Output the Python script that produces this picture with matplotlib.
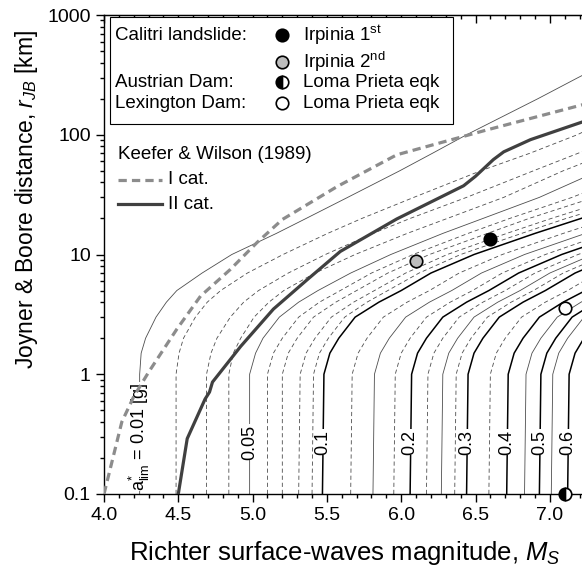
import matplotlib.pyplot as plt
from matplotlib.patches import Rectangle

plt.rcParams['font.family'] = ['Liberation Sans', 'DejaVu Sans']
plt.rcParams['mathtext.fontset'] = 'custom'
plt.rcParams['mathtext.rm'] = 'Liberation Sans'
plt.rcParams['mathtext.it'] = 'Liberation Sans:italic'

# distances [km] at which the magnitude of every iso-a*lim curve was read
r_grid = [0.1, 1, 1.5, 2, 3, 4, 5, 7, 10, 15, 20, 30, 50, 70, 100, 200, 300, 500]

# a*_lim levels [g], line style, and magnitude Ms read along r_grid
levels = ['0.01', '0.02', '0.03', '0.04', '0.05', '0.06', '0.07', '0.08', '0.09',
          '0.1', '0.125', '0.15', '0.175', '0.2', '0.225', '0.25', '0.275', '0.3',
          '0.35', '0.4', '0.45', '0.5', '0.55', '0.6']
styles = ['thin', 'dash', 'dash', 'dash', 'thin', 'dash', 'dash', 'dash', 'dash',
          'bold', 'dash', 'thin', 'dash', 'bold', 'dash', 'thin', 'dash', 'bold',
          'dash', 'bold', 'thin', 'bold', 'thin', 'bold']
curves_M = [
    [4.24, 4.24, 4.25, 4.28, 4.35, 4.42, 4.49, 4.66, 4.86, 5.16, 5.36, 5.64, 5.99, 6.21, 6.44, 6.92, 7.19, 7.54],
    [4.485, 4.485, 4.505, 4.535, 4.615, 4.695, 4.785, 4.965, 5.205, 5.505, 5.735, 6.085, 6.535, 6.865, 7.185, 7.685],
    [4.69, 4.69, 4.72, 4.76, 4.85, 4.94, 5.04, 5.24, 5.49, 5.81, 6.06, 6.44, 6.89, 7.19, 7.49],
    [4.84, 4.84, 4.87, 4.92, 5.01, 5.11, 5.21, 5.42, 5.69, 6.04, 6.31, 6.69, 7.09, 7.39],
    [4.98, 4.98, 5.02, 5.07, 5.18, 5.31, 5.44, 5.66, 5.93, 6.28, 6.55, 6.93, 7.33],
    [5.10, 5.10, 5.14, 5.20, 5.31, 5.45, 5.59, 5.80, 6.08, 6.45, 6.73, 7.15, 7.60],
    [5.20, 5.20, 5.24, 5.30, 5.41, 5.56, 5.70, 5.91, 6.19, 6.58, 6.86, 7.30],
    [5.31, 5.32, 5.36, 5.42, 5.53, 5.68, 5.82, 6.03, 6.31, 6.71, 7.01, 7.46],
    [5.40, 5.41, 5.45, 5.51, 5.62, 5.77, 5.91, 6.12, 6.40, 6.81, 7.11, 7.58],
    [5.47, 5.48, 5.52, 5.58, 5.69, 5.85, 6.00, 6.20, 6.49, 6.90, 7.21, 7.67],
    [5.66, 5.67, 5.71, 5.77, 5.88, 6.04, 6.19, 6.39, 6.68, 7.09, 7.40],
    [5.81, 5.82, 5.86, 5.92, 6.03, 6.19, 6.34, 6.54, 6.83, 7.24],
    [5.95, 5.96, 6.00, 6.06, 6.17, 6.33, 6.48, 6.68, 6.97, 7.38],
    [6.06, 6.07, 6.11, 6.17, 6.28, 6.44, 6.59, 6.79, 7.08, 7.49],
    [6.17, 6.18, 6.22, 6.28, 6.39, 6.55, 6.70, 6.90, 7.19, 7.60],
    [6.27, 6.28, 6.32, 6.38, 6.49, 6.65, 6.80, 7.00, 7.29],
    [6.36, 6.37, 6.41, 6.47, 6.58, 6.74, 6.89, 7.09, 7.38],
    [6.44, 6.45, 6.49, 6.55, 6.66, 6.82, 6.97, 7.17, 7.46],
    [6.59, 6.60, 6.64, 6.70, 6.81, 6.97, 7.12, 7.32],
    [6.71, 6.72, 6.76, 6.82, 6.93, 7.09, 7.24],
    [6.83, 6.84, 6.88, 6.94, 7.05, 7.21, 7.36],
    [6.93, 6.94, 6.98, 7.04, 7.15, 7.31],
    [7.01, 7.02, 7.06, 7.12, 7.23],
    [7.12, 7.13, 7.17, 7.23],
]
labelled = ['0.05', '0.1', '0.2', '0.3', '0.4', '0.5', '0.6']

# Keefer & Wilson (1989) bounds
kw1_M = [4.0, 4.06, 4.12, 4.2, 4.30, 4.49, 4.65, 4.85, 5.03, 5.20, 5.57, 5.97, 6.58, 7.22]
kw1_r = [0.1, 0.2, 0.4, 0.65, 1.04, 2.38, 4.5, 7.5, 12.6, 19.6, 37, 68, 110, 178]
kw2_M = [4.5, 4.56, 4.68, 4.71, 4.73, 4.92, 5.14, 5.37, 5.59, 5.97, 6.42, 6.50, 6.62, 6.69, 6.87, 7.22]
kw2_r = [0.1, 0.29, 0.62, 0.71, 0.86, 1.71, 3.5, 6.2, 10.6, 19.8, 37.5, 45, 62, 72, 91, 128]

# case histories
case_sites = ['Calitri landslide:', '', 'Austrian Dam:', 'Lexington Dam:']
case_names = ['Irpinia 1$^{\\mathrm{st}}$', 'Irpinia 2$^{\\mathrm{nd}}$', 'Loma Prieta eqk', 'Loma Prieta eqk']
case_M = [6.6, 6.1, 7.1, 7.1]
case_r = [13.4, 8.8, 0.1, 3.6]
case_face = ['black', '#bdbdbd', 'black', 'white']
case_fill = ['full', 'full', 'left', 'full']

fig = plt.figure(figsize=(5.82, 5.74), dpi=100)
ax = fig.add_axes([104 / 582, 80 / 574, 482 / 582, 479 / 574])

line_kw = {
    'thin': dict(color='#4d4d4d', lw=0.6),
    'dash': dict(color='#4d4d4d', lw=0.6, dashes=(5, 3.5)),
    'bold': dict(color='black', lw=1.1),
}
for lev, st, Ms in zip(levels, styles, curves_M):
    ax.plot(Ms, r_grid[:len(Ms)], **line_kw[st], zorder=2)
    if lev in labelled:
        ax.text(Ms[0], 0.27, lev, rotation=90, ha='center', va='center', fontsize=13,
                bbox=dict(facecolor='white', edgecolor='none', pad=0.3), zorder=3)
ax.text(curves_M[0][0], 0.30, 'a$^{*}_{\\mathrm{lim}}$ = 0.01 [g]', rotation=90,
        ha='center', va='center', fontsize=13,
        bbox=dict(facecolor='white', edgecolor='none', pad=0.3), zorder=3)

ax.plot(kw1_M, kw1_r, color='#8c8c8c', lw=2.3, dashes=(2.6, 1.6), zorder=4)
ax.plot(kw2_M, kw2_r, color='#404040', lw=2.3, zorder=4)

for M, r, fc, fs in zip(case_M, case_r, case_face, case_fill):
    ax.plot(M, r, 'o', ms=9, mfc=fc, mfcalt='white', fillstyle=fs, mec='black',
            mew=1.2, clip_on=False, zorder=6)

xt = [4.0, 4.5, 5.0, 5.5, 6.0, 6.5, 7.0]
xt_minor = [4.0 + 0.1 * i for i in range(33)]
ax.set_yscale('log')
ax.set_xlim(4.0, 4.0 + 482 / 148.6)
ax.set_ylim(0.1, 1000)
ax.set_xticks(xt)
ax.set_xticklabels(['4.0', '4.5', '5.0', '5.5', '6.0', '6.5', '7.0'])
ax.set_xticks(xt_minor, minor=True)
ax.set_yticks([0.1, 1, 10, 100, 1000])
ax.set_yticklabels(['0.1', '1', '10', '100', '1000'])
ax.tick_params(which='both', direction='out', labelsize=14, width=1)
ax.tick_params(which='major', length=6)
ax.tick_params(which='minor', length=3)
ax.spines['right'].set_visible(False)
for s in ['left', 'bottom', 'top']:
    ax.spines[s].set_linewidth(1)

top = ax.secondary_xaxis('top')
top.set_xticks(xt)
top.set_xticks(xt_minor, minor=True)
top.tick_params(which='both', direction='in', labeltop=False, width=1)
top.tick_params(which='major', length=6)
top.tick_params(which='minor', length=3)

ax.set_xlabel('Richter surface-waves magnitude, $M_S$', fontsize=18.5)
ax.set_ylabel('Joyner & Boore distance, $r_{JB}$ [km]', fontsize=16.5)
ax.xaxis.set_label_coords(0.5, -0.094)
ax.yaxis.set_label_coords(-0.133, 0.614)

# case-history legend box
ax.add_patch(Rectangle((0.0124, 0.772), 0.712, 0.224, transform=ax.transAxes,
                       facecolor='white', edgecolor='black', lw=0.8, zorder=7))
rows_y = [0.958, 0.902, 0.860, 0.816]
for site, name, fc, fs, y in zip(case_sites, case_names, case_face, case_fill, rows_y):
    ax.text(0.0228, y, site, transform=ax.transAxes, fontsize=13.5, va='center', zorder=8)
    ax.plot(0.369, y, 'o', ms=9, mfc=fc, mfcalt='white', fillstyle=fs, mec='black',
            mew=1.2, transform=ax.transAxes, zorder=8)
    ax.text(0.413, y, name, transform=ax.transAxes, fontsize=13.5, va='center', zorder=8)

# Keefer & Wilson legend
ax.text(0.029, 0.708, 'Keefer & Wilson (1989)', transform=ax.transAxes, fontsize=13.5,
        va='center', zorder=8)
ax.plot([0.029, 0.120], [0.656, 0.656], color='#8c8c8c', lw=2.3, dashes=(2.6, 1.6),
        transform=ax.transAxes, zorder=8)
ax.plot([0.029, 0.120], [0.605, 0.605], color='#404040', lw=2.3,
        transform=ax.transAxes, zorder=8)
ax.text(0.133, 0.656, 'I cat.', transform=ax.transAxes, fontsize=13.5, va='center', zorder=8)
ax.text(0.133, 0.605, 'II cat.', transform=ax.transAxes, fontsize=13.5, va='center', zorder=8)

fig.savefig('out.png', dpi=100)
